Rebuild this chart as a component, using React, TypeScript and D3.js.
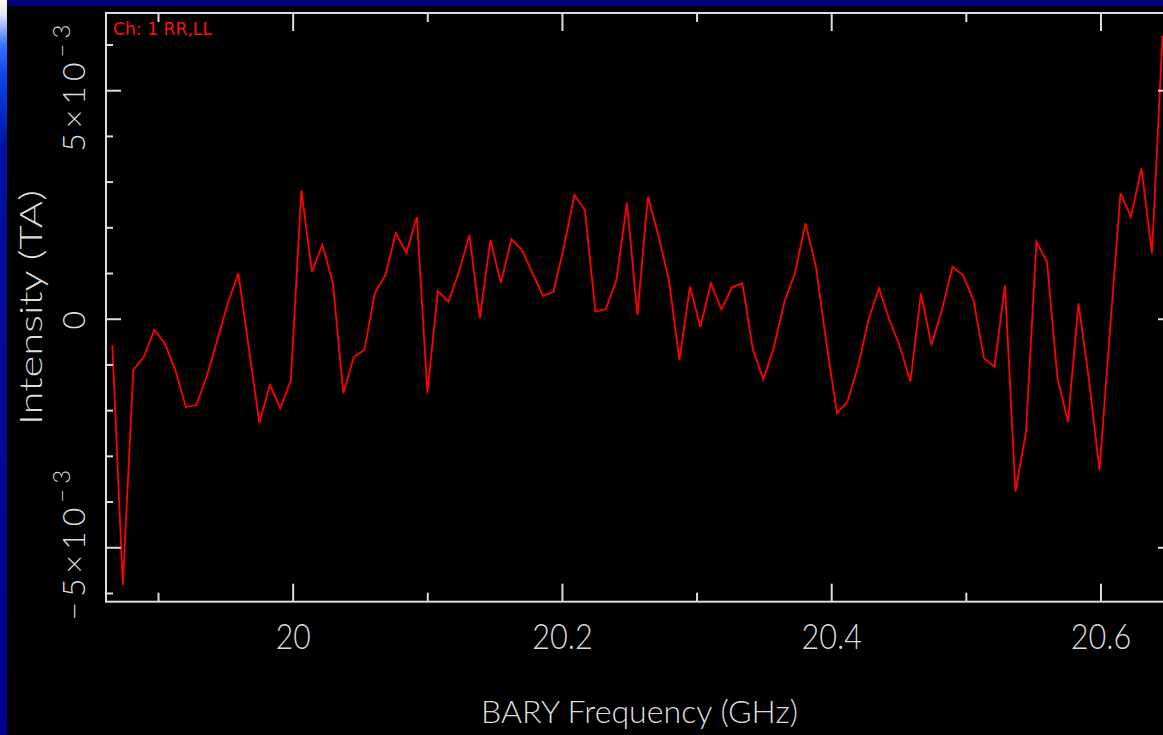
import React from "react";
import * as d3 from "d3";

// Channel frequencies (GHz)
const freqGHz: number[] = [
  19.8657, 19.8735, 19.8813, 19.8891, 19.8969, 19.9047, 19.9125, 19.9203, 19.9281, 19.9359,
  19.9437, 19.9515, 19.9593, 19.9671, 19.9749, 19.9827, 19.9905, 19.9983, 20.0061, 20.0139,
  20.0217, 20.0295, 20.0373, 20.0451, 20.0529, 20.0607, 20.0685, 20.0763, 20.0841, 20.0919,
  20.0997, 20.1075, 20.1153, 20.1231, 20.1309, 20.1387, 20.1465, 20.1543, 20.1621, 20.1699,
  20.1777, 20.1855, 20.1933, 20.2011, 20.2089, 20.2167, 20.2245, 20.2323, 20.2401, 20.2479,
  20.2557, 20.2635, 20.2713, 20.2791, 20.2869, 20.2947, 20.3025, 20.3103, 20.3181, 20.3259,
  20.3337, 20.3415, 20.3493, 20.3571, 20.3649, 20.3727, 20.3805, 20.3883, 20.3961, 20.4039,
  20.4117, 20.4195, 20.4273, 20.4351, 20.4429, 20.4507, 20.4585, 20.4663, 20.4741, 20.4819,
  20.4897, 20.4975, 20.5053, 20.5131, 20.5209, 20.5287, 20.5365, 20.5443, 20.5521, 20.5599,
  20.5677, 20.5755, 20.5833, 20.5911, 20.5989, 20.6067, 20.6145, 20.6223, 20.6301, 20.6379,
  20.6457,
];

// Intensity (TA), in units of 1e-3
const intensityMilli: number[] = [
  -0.565, -5.816, -1.112, -0.821, -0.236, -0.527, -1.112, -1.921, -1.877, -1.243,
  -0.455, 0.354, 1.004, -0.63, -2.271, -1.44, -1.943, -1.33, 2.827, 1.039,
  1.624, 0.792, -1.615, -0.827, -0.674, 0.573, 0.967, 1.886, 1.449, 2.236,
  -1.615, 0.617, 0.383, 1.033, 1.842, 0.026, 1.733, 0.792, 1.755, 1.514,
  1.011, 0.514, 0.602, 1.58, 2.718, 2.389, 0.164, 0.223, 0.858, 2.549,
  0.092, 2.681, 1.827, 0.858, -0.893, 0.711, -0.164, 0.786, 0.217, 0.698,
  0.786, -0.674, -1.315, -0.602, 0.383, 1.004, 2.098, 1.149, -0.527, -2.059,
  -1.805, -1.039, -0.018, 0.676, -0.018, -0.602, -1.368, 0.567, -0.565, 0.208,
  1.149, 0.967, 0.42, -0.856, -1.039, 0.748, -3.775, -2.468, 1.696, 1.258,
  -1.287, -2.243, 0.348, -1.33, -3.3, -0.236, 2.755, 2.243, 3.302, 1.442,
  6.197,
];

const xMajorTicks: number[] = [20, 20.2, 20.4, 20.6];
const xMinorTicks: number[] = [19.9, 20.1, 20.3, 20.5];
const xTickLabels: string[] = ["20", "20.2", "20.4", "20.6"];
const yMajorTicks: number[] = [-0.005, 0, 0.005];
const yMinorTicks: number[] = [-0.006, -0.004, -0.003, -0.002, -0.001, 0.001, 0.002, 0.003, 0.004, 0.006];
const yTickMain: string[] = ["\u22125\u00d710", "0", "5\u00d710"];
const yTickExp: string[] = ["\u22123", "", "\u22123"];

const title = "Ch: 1 RR,LL";
const xTitle = "BARY Frequency (GHz)";
const yTitle = "Intensity (TA)";

const W = 1163;
const H = 735;
const L = 106, T = 13, R = 1173, B = 601.7;
const AX = "#dcdcdc";
const FONT = "Lato, 'DejaVu Sans', sans-serif";

export default function App() {
  const x = d3.scaleLinear().domain([19.861, 20.6535]).range([L, R]);
  const y = d3.scaleLinear().domain([-6.18e-3, 6.7e-3]).range([B, T]);
  const pts = freqGHz.map((f, i) => [f, intensityMilli[i] * 1e-3] as [number, number]);
  const line = d3.line<[number, number]>().x((d) => x(d[0])).y((d) => y(d[1]));

  const labelLen = (s: string) => {
    let w = 0;
    for (const c of s) w += c === "." ? 8 : 17.5;
    return w;
  };

  return (
    <svg
      width={W}
      height={H}
      style={{ position: "fixed", left: 0, top: 0, display: "block" }}
    >
      <defs>
        <linearGradient id="strip" gradientUnits="userSpaceOnUse" x1={0} y1={0} x2={0} y2={H}>
          <stop offset={0} stopColor="#fffbe0" />
          <stop offset={0.02} stopColor="#dfe6f8" />
          <stop offset={0.06} stopColor="#3a76ff" />
          <stop offset={0.1} stopColor="#0a46f0" />
          <stop offset={0.2} stopColor="#0010a0" />
          <stop offset={1} stopColor="#00008e" />
        </linearGradient>
        <clipPath id="plotClip">
          <rect x={L} y={T} width={R - L} height={B - T} />
        </clipPath>
      </defs>
      <rect x={0} y={0} width={W} height={H} fill="#000" />
      <rect x={0} y={0} width={W} height={6} fill="#00007c" />
      <rect x={0} y={0} width={7} height={H} fill="url(#strip)" />

      {/* data */}
      <path
        d={line(pts) || ""}
        fill="none"
        stroke="#ff0000"
        strokeWidth={1.8}
        strokeLinejoin="miter"
        clipPath="url(#plotClip)"
      />

      {/* frame */}
      <rect x={L} y={T} width={R - L} height={B - T} fill="none" stroke={AX} strokeWidth={2} />

      {/* x ticks bottom & top */}
      {xMajorTicks.map((t) => (
        <g key={"xM" + t}>
          <line x1={x(t)} x2={x(t)} y1={B} y2={B - 18} stroke={AX} strokeWidth={2} />
          <line x1={x(t)} x2={x(t)} y1={T} y2={T + 18} stroke={AX} strokeWidth={2} />
        </g>
      ))}
      {xMinorTicks.map((t) => (
        <g key={"xm" + t}>
          <line x1={x(t)} x2={x(t)} y1={B} y2={B - 9} stroke={AX} strokeWidth={2} />
          <line x1={x(t)} x2={x(t)} y1={T} y2={T + 9} stroke={AX} strokeWidth={2} />
        </g>
      ))}
      {/* y ticks left & right */}
      {yMajorTicks.map((t) => (
        <g key={"yM" + t}>
          <line x1={L} x2={L + 15} y1={y(t)} y2={y(t)} stroke={AX} strokeWidth={2} />
          <line x1={R} x2={R - 15} y1={y(t)} y2={y(t)} stroke={AX} strokeWidth={2} />
        </g>
      ))}
      {yMinorTicks.map((t) => (
        <g key={"ym" + t}>
          <line x1={L} x2={L + 7} y1={y(t)} y2={y(t)} stroke={AX} strokeWidth={2} />
          <line x1={R} x2={R - 7} y1={y(t)} y2={y(t)} stroke={AX} strokeWidth={2} />
        </g>
      ))}

      {/* x tick labels */}
      {xMajorTicks.map((t, i) => (
        <text
          key={"xl" + t}
          x={x(t)}
          y={649}
          textAnchor="middle"
          fontFamily={FONT}
          fontWeight={300}
          fontSize={36}
          fill={AX}
          textLength={labelLen(xTickLabels[i])}
          lengthAdjust="spacingAndGlyphs"
        >
          {xTickLabels[i]}
        </text>
      ))}

      {/* y tick labels */}
      {yMajorTicks.map((t, i) => (
        <text
          key={"yl" + t}
          transform={`translate(85,${y(t) - (yTickExp[i] ? 5 : -1)}) rotate(-90)`}
          textAnchor="middle"
          fontFamily={FONT}
          fontWeight={300}
          fontSize={32}
          fill={AX}
          letterSpacing={yTickExp[i] ? 5 : 0}
        >
          <tspan>{yTickMain[i]}</tspan>
          {yTickExp[i] ? (
            <tspan dy={-15} fontSize={24}>
              {yTickExp[i]}
            </tspan>
          ) : null}
        </text>
      ))}

      {/* axis titles */}
      <text
        x={481}
        y={723}
        fontFamily={FONT}
        fontWeight={300}
        fontSize={32}
        fill={AX}
        textLength={317}
        lengthAdjust="spacingAndGlyphs"
      >
        {xTitle}
      </text>
      <text
        transform="translate(42,425) rotate(-90)"
        fontFamily={FONT}
        fontWeight={300}
        fontSize={32}
        fill={AX}
        textLength={235}
        lengthAdjust="spacingAndGlyphs"
      >
        {yTitle}
      </text>

      {/* title */}
      <text
        x={113}
        y={35}
        fontFamily="'DejaVu Sans', sans-serif"
        fontSize={18}
        fill="#ff1010"
        textLength={99}
        lengthAdjust="spacingAndGlyphs"
      >
        {title}
      </text>
    </svg>
  );
}
